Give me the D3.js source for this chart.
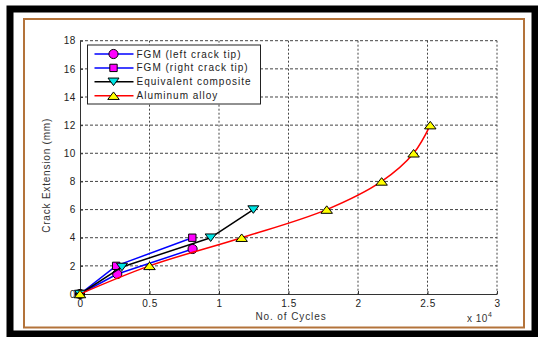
<!DOCTYPE html>
<html>
<head>
<meta charset="utf-8">
<script src="https://cdn.jsdelivr.net/npm/d3@7"></script>
<style>
  body { margin: 0; background: #fff; }
  text { font-family: Arial, "Liberation Sans", sans-serif; }
</style>
</head>
<body>
<div id="chart"></div>
<script>
// data (x in units of 1e4 cycles, y in mm)
var fgmLeft = [[0, 0], [0.268, 1.42], [0.81, 3.2]];
var fgmRight = [[0, 0], [0.26, 2.0], [0.808, 4.0]];
var equivComposite = [[0, 0], [0.302, 1.92], [0.94, 4.0], [1.247, 6.0]];
var aluminum = [[0, 0], [0.5, 2.0], [1.163, 4.0], [1.775, 6.0], [2.17, 8.0], [2.40, 10.0], [2.52, 12.0]];
var xTicks = [0, 0.5, 1, 1.5, 2, 2.5, 3];
var xTickLabels = ["0", "0.5", "1", "1.5", "2", "2.5", "3"];
var yTicks = [0, 2, 4, 6, 8, 10, 12, 14, 16, 18];
var legendNames = ["FGM (left crack tip)", "FGM (right crack tip)", "Equivalent composite", "Aluminum alloy"];

var W = 538, H = 337;
var margin = {top: 40.7, right: 41, bottom: 43, left: 80};
var width = W - margin.left - margin.right,
    height = H - margin.top - margin.bottom;

var x_scale = d3.scaleLinear().domain([0, 3]).range([0, width]);
var y_scale = d3.scaleLinear().domain([0, 18]).range([height, 0]);

var svg = d3.select("#chart").append("svg")
    .attr("width", W)
    .attr("height", H);

// frames
svg.append("rect").attr("x", 10).attr("y", 9).attr("width", 525).attr("height", 325)
    .attr("fill", "#fff").attr("stroke", "#000").attr("stroke-width", 7);
svg.append("rect").attr("x", 24).attr("y", 19).attr("width", 500).attr("height", 308.5)
    .attr("fill", "#fff").attr("stroke", "#b3733a").attr("stroke-width", 2);

var g = svg.append("g")
    .attr("transform", "translate(" + margin.left + "," + margin.top + ")");

// grid
g.selectAll(".hgrid").data(yTicks.slice(1)).enter().append("line")
    .attr("x1", 0).attr("x2", width)
    .attr("y1", function(d) { return y_scale(d); })
    .attr("y2", function(d) { return y_scale(d); })
    .attr("stroke", "#444").attr("stroke-width", 1)
    .style("stroke-dasharray", "3,2");
g.selectAll(".vgrid").data(xTicks.slice(1)).enter().append("line")
    .attr("y1", 0).attr("y2", height)
    .attr("x1", function(d) { return x_scale(d); })
    .attr("x2", function(d) { return x_scale(d); })
    .attr("stroke", "#444").attr("stroke-width", 1)
    .style("stroke-dasharray", "2,2");

// axes
var xAxis = g.append("g")
    .attr("transform", "translate(0," + height + ")")
    .call(d3.axisBottom(x_scale).tickValues(xTicks)
      .tickFormat(function(d, i) { return xTickLabels[i]; })
      .tickSizeInner(-3).tickSizeOuter(0).tickPadding(6));
var yAxis = g.append("g")
    .call(d3.axisLeft(y_scale).tickValues(yTicks)
      .tickSizeInner(-3).tickSizeOuter(0).tickPadding(4));
[xAxis, yAxis].forEach(function(a) {
  a.select(".domain").attr("stroke", "#333");
  a.selectAll(".tick line").attr("stroke", "#333");
  a.selectAll("text").attr("fill", "#222").style("font-size", "10px")
      .style("letter-spacing", "0.6px");
});

svg.append("text")
    .attr("transform", "translate(50," + (margin.top + height / 2 + 8) + ") rotate(-90)")
    .attr("text-anchor", "middle")
    .attr("fill", "#333").style("font-size", "10px").style("letter-spacing", "0.8px")
    .text("Crack Extension (mm)");
svg.append("text")
    .attr("x", 291).attr("y", 320)
    .attr("text-anchor", "middle")
    .attr("fill", "#333").style("font-size", "10px").style("letter-spacing", "0.9px")
    .text("No. of Cycles");
var expo = svg.append("text")
    .attr("x", 467).attr("y", 322)
    .attr("fill", "#333").style("font-size", "10px").style("letter-spacing", "0.5px");
expo.append("tspan").text("x  10");
expo.append("tspan").attr("dy", -5).style("font-size", "7px").text("4");

// lines
var straight = d3.line()
    .x(function(d) { return x_scale(d[0]); })
    .y(function(d) { return y_scale(d[1]); });
var smooth = d3.line()
    .curve(d3.curveCatmullRom.alpha(0.5))
    .x(function(d) { return x_scale(d[0]); })
    .y(function(d) { return y_scale(d[1]); });

// flat matlab-like triangles
function tri(w, h, down) {
  var s = down ? -1 : 1;
  return "M0," + (-s * h / 2) + "L" + (w / 2) + "," + (s * h / 2) + "L" + (-w / 2) + "," + (s * h / 2) + "Z";
}

var series = [
  {data: fgmLeft, line: "#0000ff", fill: "#ff00ff", d: d3.symbol().type(d3.symbolCircle).size(66)(), gen: straight},
  {data: fgmRight, line: "#0000ff", fill: "#ff00ff", d: d3.symbol().type(d3.symbolSquare).size(54)(), gen: straight},
  {data: equivComposite, line: "#000000", fill: "#00e5e5", d: tri(11, 7.5, true), gen: straight},
  {data: aluminum, line: "#ff0000", fill: "#ffff00", d: tri(11.5, 7.5, false), gen: smooth}
];

// plot in order, later series on top (line then markers)
series.forEach(function(s) {
  g.append("path").datum(s.data)
      .attr("fill", "none").attr("stroke", s.line).attr("stroke-width", 1.5)
      .attr("stroke-linejoin", "round").attr("d", s.gen);
  g.selectAll(null).data(s.data).enter().append("path")
      .attr("d", s.d)
      .attr("transform", function(d) {
        return "translate(" + x_scale(d[0]) + "," + y_scale(d[1]) + ")";
      })
      .attr("fill", s.fill).attr("stroke", "#000").attr("stroke-width", 1);
});

// legend
var leg = svg.append("g").attr("transform", "translate(87.5,45)");
leg.append("rect").attr("width", 173).attr("height", 59)
    .attr("fill", "#fff").attr("stroke", "#222").attr("stroke-width", 1);
legendNames.forEach(function(name, i) {
  var s = series[i];
  var yy = 9 + i * 13.9;
  leg.append("line").attr("x1", 7).attr("x2", 46).attr("y1", yy).attr("y2", yy)
      .attr("stroke", s.line).attr("stroke-width", 1.5);
  leg.append("path")
      .attr("d", s.d)
      .attr("transform", "translate(26," + yy + ")")
      .attr("fill", s.fill).attr("stroke", "#000").attr("stroke-width", 1);
  leg.append("text").attr("x", 49).attr("y", yy + 3.5)
      .attr("fill", "#222").style("font-size", "10px").style("letter-spacing", "1px")
      .text(name);
});
</script>
</body>
</html>
